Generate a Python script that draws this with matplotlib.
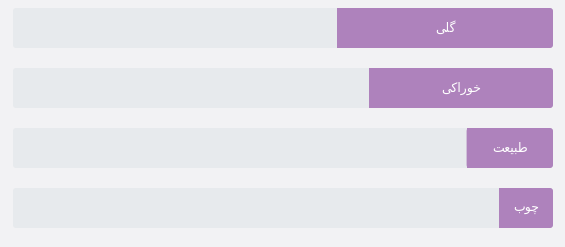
import numpy as np
import matplotlib
matplotlib.use('Agg')
import matplotlib.pyplot as plt
from matplotlib.patches import FancyBboxPatch

# Data (percent share of each category)
labels = ['گلی', 'خوراکی', 'طبیعت', 'چوب']
values = [40, 34, 16, 10]

# Persian text pre-shaped into presentation forms, visual (left-to-right) order,
# since matplotlib does no Arabic shaping by itself.
shaped = ['\uFBFD\uFEE0\uFB94',
          '\uFBFD\uFB90\uFE8D\uFEAD\uFEEE\uFEA7',
          '\uFE96\uFECC\uFBFF\uFE92\uFEC3',
          '\uFE8F\uFEEE\uFB7C']

bg = '#f2f2f4'
track = '#e7eaed'
fill = '#ae82bc'

W, H = 565, 247
fig = plt.figure(figsize=(W/100, H/100), dpi=100)
fig.patch.set_facecolor(bg)
ax = fig.add_axes([0, 0, 1, 1])
ax.set_facecolor(bg)

# 100 units = 540 px, track starts at x=13px; rows every 60px, first centre at 28px
px_x = 100/540.0
px_y = 1/60.0
ax.set_xlim(-13*px_x, 100 + 12*px_x)
ax.set_ylim(3.65, -28*px_y)
ax.axis('off')

h = 40*px_y
r = 3*px_x
asp = px_y/px_x
for i, (lab, v) in enumerate(zip(shaped, values)):
    ax.add_patch(FancyBboxPatch((0, i - h/2), 100, h,
                                boxstyle='round,pad=0,rounding_size=%f' % r,
                                mutation_aspect=asp, fc=track, ec='none'))
    ax.add_patch(FancyBboxPatch((100 - v, i - h/2), v, h,
                                boxstyle='round,pad=0,rounding_size=%f' % r,
                                mutation_aspect=asp, fc=fill, ec='none'))
    # square off the left end of the fill
    ax.barh(i, 2*r, left=100 - v, height=h, color=fill, linewidth=0)
    ax.text(100 - v/2, i, lab, color='white', fontsize=9,
            ha='center', va='center', family=['DejaVu Sans'])

fig.savefig('out.png', dpi=100, facecolor=bg)
